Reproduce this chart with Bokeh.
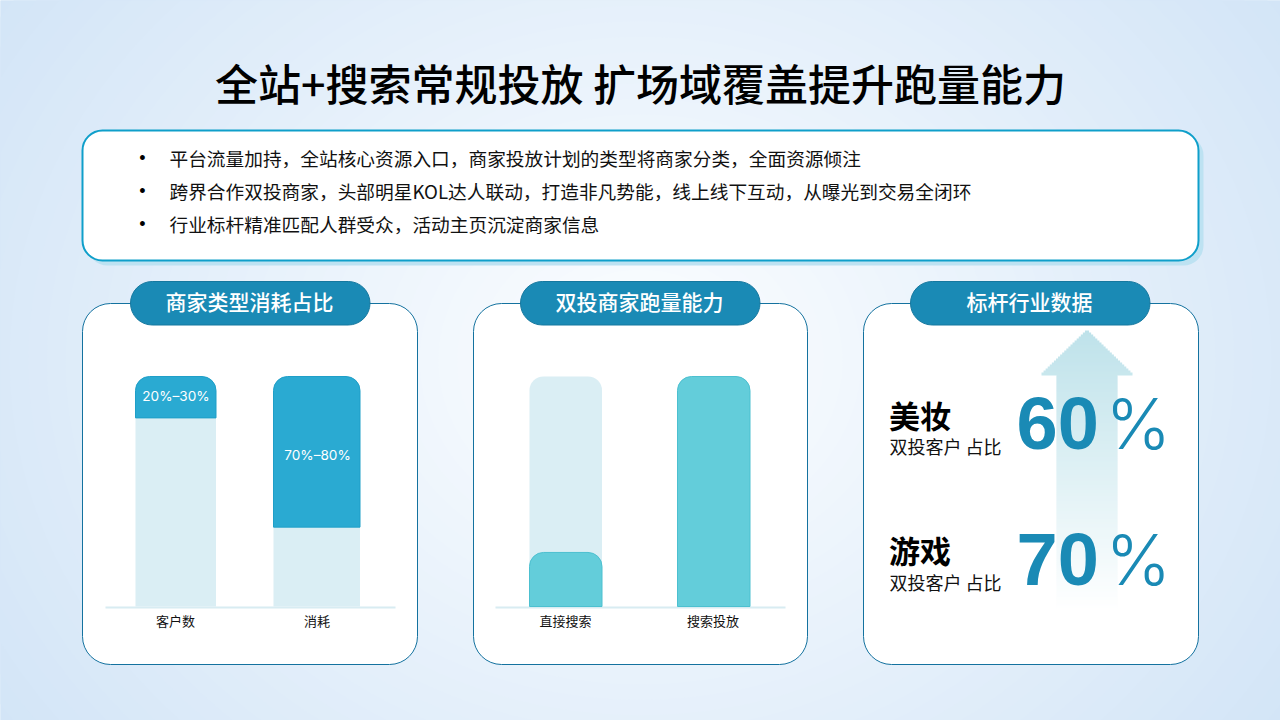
import numpy as np
from bokeh.core.properties import value
from bokeh.embed import file_html
from bokeh.models import ColumnDataSource, Range1d
from bokeh.plotting import figure
from bokeh.resources import INLINE

CJK = value("Noto Sans CJK SC")
CJK_MEDIUM = value("Noto Sans CJK SC Medium")

# chart values (share of each bar, bar full height = 100)
title = "全站+搜索常规投放 扩场域覆盖提升跑量能力"
bullets = [
    "平台流量加持，全站核心资源入口，商家投放计划的类型将商家分类，全面资源倾注",
    "跨界合作双投商家，头部明星KOL达人联动，打造非凡势能，线上线下互动，从曝光到交易全闭环",
    "行业标杆精准匹配人群受众，活动主页沉淀商家信息",
]
panel_titles = ["商家类型消耗占比", "双投商家跑量能力", "标杆行业数据"]

type_categories = ["客户数", "消耗"]
type_base = [82, 34.5]
type_share = [18, 65.5]
type_labels = ["20%–30%", "70%–80%"]

run_categories = ["直接搜索", "搜索投放"]
run_track = [100, 100]
run_values = [23.5, 100]

industries = ["美妆", "游戏"]
industry_sub = ["双投客户 占比", "双投客户 占比"]
industry_values = ["60", "70"]

# page layout in screenshot pixels
W, H = 1280, 720
BASE_Y, FULL_Y = 606, 376
px_per_unit = (BASE_Y - FULL_Y) / 100

p = figure(width=W, height=H, output_backend="svg", toolbar_location=None,
           x_range=Range1d(0, W), y_range=Range1d(H, 0),
           x_axis_type=None, y_axis_type=None, min_border=0)
p.outline_line_color = None
p.grid.visible = False
p.background_fill_color = "#d3e5f7"
p.border_fill_color = None

# share axis for the bars: 0 sits on the baseline, 100 at the top of the bars
p.extra_y_ranges = {"share": Range1d((BASE_Y - H) / px_per_unit, BASE_Y / px_per_unit)}


def lerp(c0, c1, t):
    return [c0[i] + (c1[i] - c0[i]) * t for i in range(3)]


def to_hex(c):
    return "#%02x%02x%02x" % tuple(int(round(v)) for v in c)


# page background, soft radial gradient as nested ellipses
steps = np.linspace(1, 0.02, 42)
p.ellipse(x=640, y=360, width=1560 * steps, height=1300 * steps,
          fill_color=[to_hex(lerp((253, 254, 255), (211, 229, 247), s)) for s in steps], line_color=None)

# text box with its shadow
p.quad(left=87, right=1203, top=135, bottom=265, fill_color="#bde2f2", line_color=None, border_radius=20)
p.quad(left=82, right=1198, top=130, bottom=260, fill_color="white", line_color="#0f9fca", line_width=2, border_radius=20)

p.text(x=142, y=[157, 190, 223], text=["•"] * 3, text_font=value("Liberation Sans"), text_font_size="18px",
       text_color="black", text_align="center", text_baseline="middle")
p.text(x=169, y=[157, 190, 223], text=bullets, text_font=CJK, text_font_size="18.7px", text_color="#111111",
       text_baseline="middle")

p.text(x=640, y=[81], text=[title], text_font=CJK_MEDIUM, text_font_size="43px",
       text_color="black", text_align="center", text_baseline="middle")

# three panels with title pills
panel_l = [82, 473, 863]
panel_r = [417, 807, 1198]
pill_l = [130, 520, 910]
p.quad(left=panel_l, right=panel_r, top=303, bottom=664, fill_color="white", line_color="#14729f",
       line_width=1, border_radius=28)
p.quad(left=pill_l, right=[x + 239.5 for x in pill_l], top=281, bottom=324.5, fill_color="#1a8ab5",
       line_color="#15789f", line_width=1, border_radius=22)
p.text(x=[x + 119 for x in pill_l], y=300, text=panel_titles, text_font=CJK_MEDIUM, text_font_size="21px",
       text_color="white", text_align="center", text_baseline="middle")

# baselines
p.quad(left=[105, 495], right=[395, 785], top=606, bottom=608, fill_color="#d8ecf2", line_color=None)

# first panel, stacked bars
type_src = ColumnDataSource(dict(
    x=[175.25, 316.25], w=[80.5, 86.5], base=type_base,
    top=[b + s for b, s in zip(type_base, type_share)],
    zero=[0, 0], label=type_labels, cat=type_categories,
))
p.vbar(x="x", width="w", bottom="zero", top="base", source=type_src, y_range_name="share",
       fill_color="#daeef4", line_color=None)
p.vbar(x="x", width="w", bottom="base", top="top", source=type_src, y_range_name="share",
       fill_color="#2aaad2", line_color="#1f9fc8", line_width=1, border_radius=(14, 14, 0, 0))
p.text(x=[175.5, 317], y=[395, 454], text=type_labels, text_font=value("Inter"), text_font_size="13.6px",
       text_color="white", text_align="center", text_baseline="middle")
p.text(x=[175, 316.5], y=620, text=type_categories, text_font=CJK, text_font_size="13px",
       text_color="#111111", text_align="center", text_baseline="middle")

# second panel, bars over a pale track
run_src = ColumnDataSource(dict(x=[565.25, 713.25], w=[72.5, 72.5], track=run_track, top=run_values, zero=[0, 0]))
p.vbar(x="x", width="w", bottom="zero", top="track", source=run_src, y_range_name="share",
       fill_color="#daeef4", line_color=None, border_radius=(14, 14, 0, 0))
p.vbar(x="x", width="w", bottom="zero", top="top", source=run_src, y_range_name="share",
       fill_color="#63cdda", line_color="#4cc0d0", line_width=1, border_radius=(14, 14, 0, 0))
p.text(x=[565, 712.5], y=620, text=run_categories, text_font=CJK, text_font_size="13px",
       text_color="#111111", text_align="center", text_baseline="middle")

# third panel, gradient arrow drawn as thin overlapping rows
rows = np.arange(328, 612, 2)
half = np.where(rows < 374, (rows - 328) * 45.5 / 44, 30.5)
fade = np.clip((rows - 328) / (610 - 328), 0, 1)
colors = [to_hex(lerp((190, 226, 234), (255, 255, 255), f)) for f in fade]
p.quad(left=1086.5 - half, right=1086.5 + half, top=rows, bottom=rows + 3, fill_color=colors, line_color=None)

p.text(x=888.5, y=[414, 549], text=industries, text_font=CJK, text_font_size="31px", text_font_style="bold",
       text_color="black", text_baseline="middle")
p.text(x=889, y=[445, 581], text=industry_sub, text_font=CJK, text_font_size="18px", text_color="#111111",
       text_baseline="middle")
p.text(x=1016, y=[422, 558], text=industry_values, text_font=value("Liberation Sans"), text_font_size="74px",
       text_font_style="bold", text_color="#1a8ab5", text_baseline="middle")
p.text(x=1105, y=[423, 559], text=["%", "%"], text_font=value("Inter Light"), text_font_size="70px",
       text_color="#1a8ab5", text_baseline="middle")

open("out.html", "w").write(file_html(p, INLINE))
